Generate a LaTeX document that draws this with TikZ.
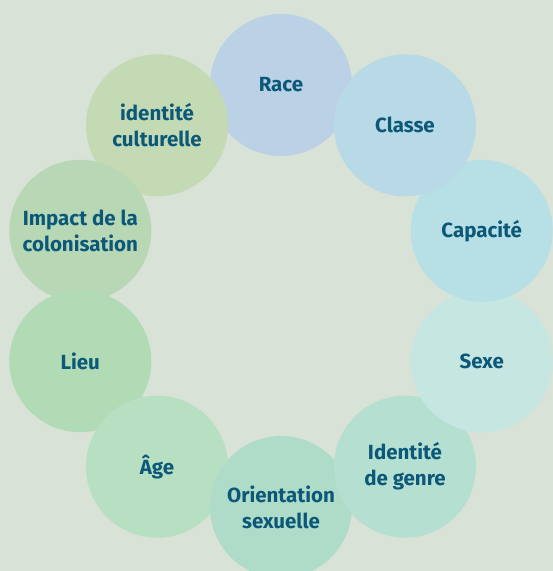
\documentclass[tikz,border=0pt]{standalone}
\usepackage{fontspec}
\setmainfont{Fira Sans}
\definecolor{bg}{HTML}{D8E2D6}
\definecolor{txt}{HTML}{0C5879}
\definecolor{cRace}{HTML}{BBD1E6}
\definecolor{cClasse}{HTML}{B8D9E6}
\definecolor{cCap}{HTML}{B6E0E5}
\definecolor{cSexe}{HTML}{C6E6E1}
\definecolor{cIdg}{HTML}{B5DFD1}
\definecolor{cOri}{HTML}{AFDCC8}
\definecolor{cAge}{HTML}{B7DFC2}
\definecolor{cLieu}{HTML}{B1DBB5}
\definecolor{cImp}{HTML}{B8D8B5}
\definecolor{cCult}{HTML}{C3DAB5}
\begin{document}
\begin{tikzpicture}[x=1pt,y=-1pt,
  bubble/.style={circle, minimum size=142pt, inner sep=0pt, draw=none, fill=#1,
    text=txt, align=center, font=\fontsize{20.5}{26}\selectfont\bfseries}]
\fill[bg] (0,0) rectangle (553,571);
\useasboundingbox (0,0) rectangle (553,571);
\node[bubble=cRace]   (race)   at (281,85)      {Race};
\node[bubble=cCult]   (cult)   at (157,125.3)   {identité\\culturelle};
\node[bubble=cImp]    (imp)    at (80.3,230.8)  {Impact de la\\colonisation};
\node[bubble=cLieu]   (lieu)   at (80.3,361.2)  {Lieu};
\node[bubble=cAge]    (age)    at (157,466.7)   {Âge};
\node[bubble=cOri]    (ori)    at (281,507)     {Orientation\\sexuelle};
\node[bubble=cIdg]    (idg)    at (405,466.7)   {Identité\\de genre};
\node[bubble=cSexe]   (sexe)   at (481.7,361.2) {Sexe};
\node[bubble=cCap]    (cap)    at (481.7,230.8) {Capacité};
\node[bubble=cClasse] (classe) at (405,125.3)   {Classe};
\end{tikzpicture}
\end{document}
